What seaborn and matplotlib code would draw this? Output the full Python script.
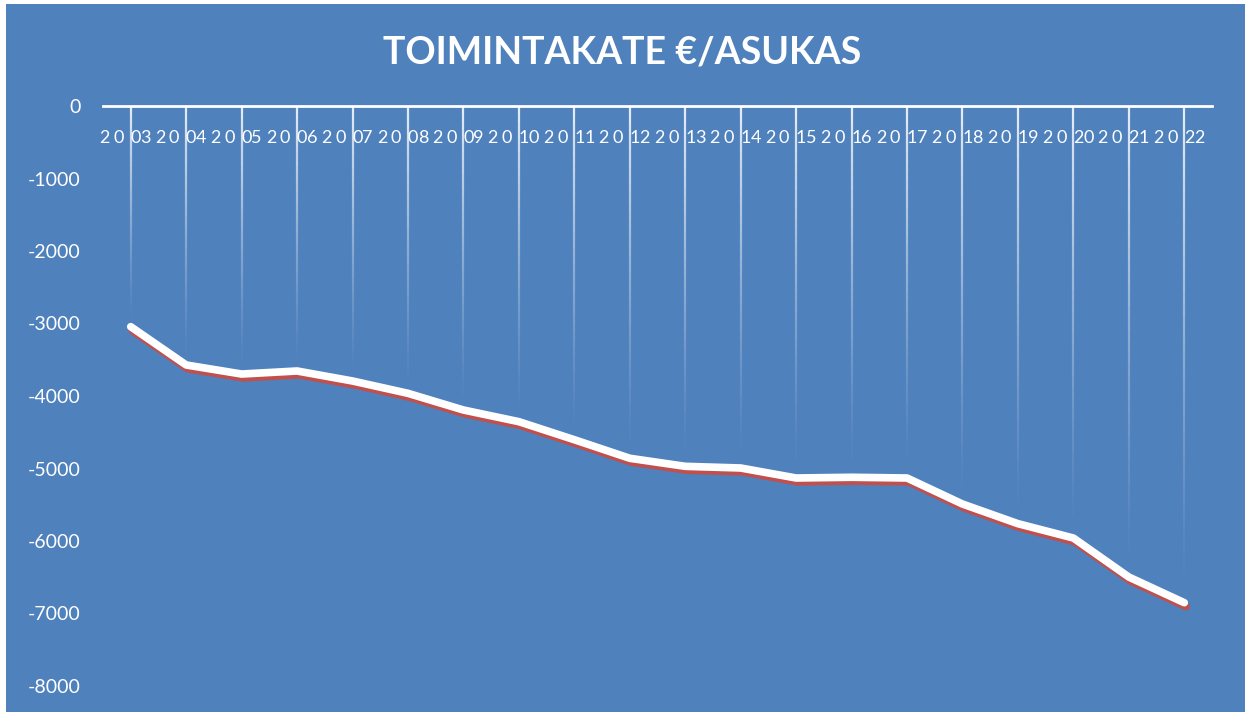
import numpy as np
import pandas as pd
import matplotlib
matplotlib.use("Agg")
import matplotlib.pyplot as plt
import matplotlib.patheffects as pe
import matplotlib.transforms as mtransforms
from matplotlib.collections import LineCollection
from matplotlib.patches import Rectangle
import seaborn as sns

# data
years = [str(y) for y in range(2003, 2023)]
toimintakate = [-3044, -3572, -3697, -3655, -3793, -3963, -4193, -4354, -4603, -4859,
                -4970, -4993, -5131, -5121, -5131, -5490, -5761, -5959, -6497, -6851]
y_ticks = [0, -1000, -2000, -3000, -4000, -5000, -6000, -7000, -8000]

BLUE = "#4F81BD"
RED = "#C0504D"

sns.set_style("white")
plt.rcParams["font.family"] = ["Lato", "DejaVu Sans"]

df = pd.DataFrame({"vuosi": years, "euroa": toimintakate})

fig = plt.figure(figsize=(12.45, 7.12), dpi=100, facecolor="white")
fig.patches.append(Rectangle((6 / 1245, 0), 1 - 6 / 1245, 1 - 4 / 712,
                             transform=fig.transFigure, facecolor=BLUE,
                             edgecolor="none", zorder=-10))

ax = fig.add_axes([103 / 1245, 1 - 686 / 712, (1212 - 103) / 1245, (686 - 106) / 712])
ax.set_facecolor("none")
ax.set_zorder(2)

# fading drop lines from the axis down to each point
for i, v in enumerate(toimintakate):
    ys = np.linspace(0, v, 41)
    segs = [[(i, ys[k]), (i, ys[k + 1])] for k in range(40)]
    cols = [(1, 1, 1, 0.85 * (1 - k / 39) ** 1.3) for k in range(40)]
    ax.add_collection(LineCollection(segs, colors=cols, linewidths=1.6, zorder=1))

sns.lineplot(data=df, x="vuosi", y="euroa", ax=ax, color="white", linewidth=5.5,
             solid_capstyle="round", solid_joinstyle="round", zorder=3,
             path_effects=[pe.SimpleLineShadow(offset=(1.2, -2.8), shadow_color=RED, alpha=1.0),
                           pe.Normal()])

ax.set_xlim(-0.5, len(years) - 0.5)
ax.set_ylim(-8000, 0)
ax.set_yticks(y_ticks)
ax.set_yticklabels([str(t) for t in y_ticks])
ax.set_xticks([])
ax.set_xlabel("")
ax.set_ylabel("")
ax.tick_params(axis="y", length=0, pad=16, labelsize=14, labelcolor="white")

for side in ["left", "right", "bottom"]:
    ax.spines[side].set_visible(False)
ax.spines["top"].set_color("white")
ax.spines["top"].set_linewidth(2)

# year labels just under the axis line, letters spread out
trans = mtransforms.blended_transform_factory(ax.transData, ax.transAxes)
char_offsets = [-26, -12, 5, 15]
for i, y in enumerate(years):
    for ch, dx in zip(y, char_offsets):
        t = mtransforms.offset_copy(trans, fig=fig, x=dx, y=0, units="dots")
        ax.text(i, 1 - 32 / 580, ch, transform=t, ha="center", va="center",
                color="white", fontsize=13)

fig.text(0.5, 1 - 53 / 712, "TOIMINTAKATE €/ASUKAS", ha="center", va="center",
         color="white", fontsize=27, fontweight="bold")

fig.savefig("out.png", dpi=100, facecolor=fig.get_facecolor())
